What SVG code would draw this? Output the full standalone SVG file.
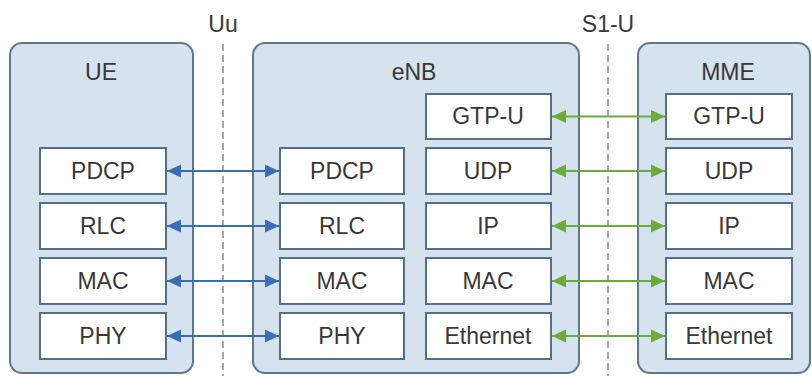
<svg xmlns="http://www.w3.org/2000/svg" width="812" height="376" viewBox="0 0 812 376">
<style>
.ctr{fill:#d6e2ed;stroke:#5d7891;stroke-width:2}
.box{fill:#fff;stroke:#52708c;stroke-width:2}
text{font-family:"Liberation Sans",Arial,sans-serif;font-size:23px;fill:#383838;text-anchor:middle}
.blue{stroke:#3b6db3;stroke-width:2.2;fill:none;marker-start:url(#bs);marker-end:url(#be)}
.green{stroke:#6aab3c;stroke-width:2.2;fill:none;marker-start:url(#gs);marker-end:url(#ge)}
.dash{stroke:#6f6f6f;stroke-width:1.2;stroke-dasharray:7 4;fill:none}
</style>
<defs>
<marker id="be" viewBox="0 0 14 14" refX="14" refY="7" markerWidth="14" markerHeight="14" orient="auto" markerUnits="userSpaceOnUse"><path d="M0,0.5L14,7L0,13.5z" fill="#3b6db3"/></marker>
<marker id="bs" viewBox="0 0 14 14" refX="0" refY="7" markerWidth="14" markerHeight="14" orient="auto" markerUnits="userSpaceOnUse"><path d="M14,0.5L0,7L14,13.5z" fill="#3b6db3"/></marker>
<marker id="ge" viewBox="0 0 14 14" refX="14" refY="7" markerWidth="14" markerHeight="14" orient="auto" markerUnits="userSpaceOnUse"><path d="M0,0.5L14,7L0,13.5z" fill="#6aab3c"/></marker>
<marker id="gs" viewBox="0 0 14 14" refX="0" refY="7" markerWidth="14" markerHeight="14" orient="auto" markerUnits="userSpaceOnUse"><path d="M14,0.5L0,7L14,13.5z" fill="#6aab3c"/></marker>
</defs>
<rect width="812" height="376" fill="#fff"/>
<g id="interfaces">
<text x="223" y="32">Uu</text>
<path class="dash" d="M223,44V376"/>
<text x="608" y="32">S1-U</text>
<path class="dash" d="M608,44V376"/>
</g>
<g id="UE">
<rect class="ctr" x="10" y="43" width="183" height="330" rx="12"/>
<text x="101" y="80">UE</text>
<g id="UE-PDCP"><rect class="box" x="40" y="148" width="126" height="46"/><text x="103" y="179">PDCP</text></g>
<g id="UE-RLC"><rect class="box" x="40" y="203" width="126" height="46"/><text x="103" y="234">RLC</text></g>
<g id="UE-MAC"><rect class="box" x="40" y="258" width="126" height="46"/><text x="103" y="289">MAC</text></g>
<g id="UE-PHY"><rect class="box" x="40" y="313" width="126" height="46"/><text x="103" y="344">PHY</text></g>
</g>
<g id="eNB">
<rect class="ctr" x="253" y="43" width="326" height="330" rx="12"/>
<text x="414" y="80">eNB</text>
<g id="eNB-PDCP"><rect class="box" x="280" y="148" width="124" height="46"/><text x="342" y="179">PDCP</text></g>
<g id="eNB-RLC"><rect class="box" x="280" y="203" width="124" height="46"/><text x="342" y="234">RLC</text></g>
<g id="eNB-MAC"><rect class="box" x="280" y="258" width="124" height="46"/><text x="342" y="289">MAC</text></g>
<g id="eNB-PHY"><rect class="box" x="280" y="313" width="124" height="46"/><text x="342" y="344">PHY</text></g>
<g id="eNB-GTPU"><rect class="box" x="426" y="94" width="125" height="45"/><text x="488" y="124">GTP-U</text></g>
<g id="eNB-UDP"><rect class="box" x="426" y="148" width="125" height="46"/><text x="488" y="179">UDP</text></g>
<g id="eNB-IP"><rect class="box" x="426" y="203" width="125" height="46"/><text x="488" y="234">IP</text></g>
<g id="eNB-MAC2"><rect class="box" x="426" y="258" width="125" height="46"/><text x="488" y="289">MAC</text></g>
<g id="eNB-Ethernet"><rect class="box" x="426" y="313" width="125" height="46"/><text x="488" y="344">Ethernet</text></g>
</g>
<g id="MME">
<rect class="ctr" x="638" y="43" width="172" height="330" rx="12"/>
<text x="728" y="80">MME</text>
<g id="MME-GTPU"><rect class="box" x="666" y="94" width="126" height="45"/><text x="729" y="124">GTP-U</text></g>
<g id="MME-UDP"><rect class="box" x="666" y="148" width="126" height="46"/><text x="729" y="179">UDP</text></g>
<g id="MME-IP"><rect class="box" x="666" y="203" width="126" height="46"/><text x="729" y="234">IP</text></g>
<g id="MME-MAC"><rect class="box" x="666" y="258" width="126" height="46"/><text x="729" y="289">MAC</text></g>
<g id="MME-Ethernet"><rect class="box" x="666" y="313" width="126" height="46"/><text x="729" y="344">Ethernet</text></g>
</g>
<g id="connectors">
<path class="blue" d="M167,171H279"/>
<path class="blue" d="M167,226H279"/>
<path class="blue" d="M167,281H279"/>
<path class="blue" d="M167,336H279"/>
<path class="green" d="M552,116.5H665"/>
<path class="green" d="M552,171H665"/>
<path class="green" d="M552,226H665"/>
<path class="green" d="M552,281H665"/>
<path class="green" d="M552,336H665"/>
</g>
</svg>
